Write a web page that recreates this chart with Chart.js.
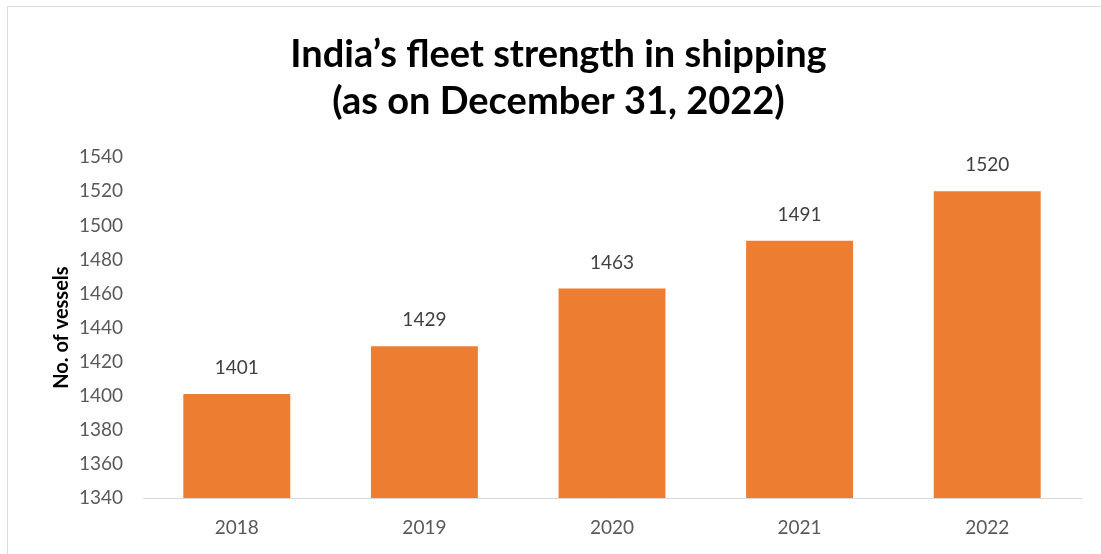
<!DOCTYPE html>
<html>
<head>
<meta charset="utf-8">
<script src="https://cdn.jsdelivr.net/npm/chart.js@4.4.0/dist/chart.umd.min.js"></script>
<style>
  html, body { margin: 0; padding: 0; background: #fff; }
  #frame { position: absolute; left: 7px; top: 6px; width: 1200px; height: 700px; border-top: 1px solid #dcdcdc; border-left: 1px solid #dcdcdc; }
  #wrap { position: absolute; left: 0; top: 0; width: 1101px; height: 554px; }
</style>
</head>
<body>
<div id="frame"></div>
<div id="wrap"><canvas id="grafico" width="1101" height="554"></canvas></div>
<script>
const anos = ['2018', '2019', '2020', '2021', '2022'];
const navios = [1401, 1429, 1463, 1491, 1520];
const yMin = 1340;
const yMax = 1540;
const yPasso = 20;

// rótulos em cima das barras
const rotulosBarras = {
    id: 'rotulosBarras',
    afterDatasetsDraw(chart) {
        const ctx = chart.ctx;
        const meta = chart.getDatasetMeta(0);
        ctx.save();
        ctx.font = '19px Lato, sans-serif';
        ctx.fillStyle = '#404040';
        ctx.textAlign = 'center';
        ctx.textBaseline = 'middle';
        meta.data.forEach((bar, i) => {
            ctx.fillText(chart.data.datasets[0].data[i], bar.x, bar.y - 26);
        });
        ctx.restore();
    }
};

const ctx = document.getElementById('grafico').getContext('2d');
new Chart(ctx, {
    type: 'bar',
    data: {
        labels: anos,
        datasets: [{
            label: 'No. of vessels',
            data: navios,
            backgroundColor: '#ED7D31',
            categoryPercentage: 1,
            barPercentage: 0.57
        }]
    },
    options: {
        responsive: false,
        animation: false,
        devicePixelRatio: 1,
        layout: { padding: { left: 36, right: 20, top: 0, bottom: 0 } },
        plugins: {
            legend: { display: false },
            tooltip: { enabled: false },
            title: {
                display: true,
                text: ['India\u2019s fleet strength in shipping', '(as on December 31, 2022)'],
                color: '#000',
                font: { family: 'Lato', size: 38, weight: 'bold', lineHeight: 1.24 },
                padding: { top: 31, bottom: 32 }
            }
        },
        scales: {
            x: {
                grid: { display: false, drawTicks: false },
                border: { color: '#d9d9d9', width: 1 },
                ticks: { color: '#595959', font: { family: 'Lato', size: 19 }, padding: 18 },
                afterFit: (s) => { s.height = 56; }
            },
            y: {
                min: yMin,
                max: yMax,
                grid: { display: false, drawTicks: false },
                border: { display: false },
                ticks: {
                    stepSize: yPasso,
                    color: '#595959',
                    font: { family: 'Lato', size: 19 },
                    padding: 20,
                    callback: (v) => String(v)
                },
                title: {
                    display: true,
                    text: 'No. of vessels',
                    color: '#000',
                    font: { family: 'Lato', size: 20, weight: 'bold' },
                    padding: { top: 14, bottom: 8 }
                },
                afterFit: (s) => { s.width = 107; }
            }
        }
    },
    plugins: [rotulosBarras]
});
</script>
</body>
</html>
